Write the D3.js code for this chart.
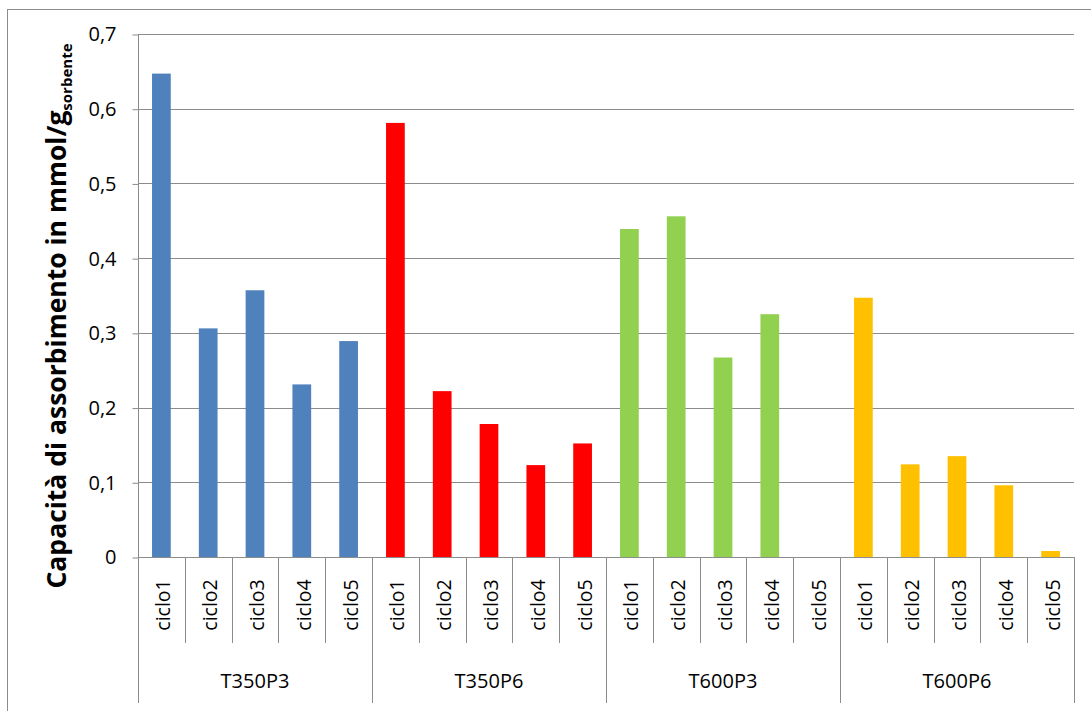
<!DOCTYPE html>
<html><head><meta charset="utf-8">
<script src="https://cdn.jsdelivr.net/npm/d3@7"></script>
<style>body{margin:0;background:#fff}svg{display:block}</style>
</head><body><svg id="c" width="1091" height="711"></svg>
<script>
const groups = ["T350P3","T350P6","T600P3","T600P6"];
const cycles = ["ciclo1","ciclo2","ciclo3","ciclo4","ciclo5"];
const colors = ["#4F81BD","#FF0000","#92D050","#FFC000"];
const valT350P3 = [0.647,0.306,0.357,0.231,0.289];
const valT350P6 = [0.581,0.222,0.178,0.123,0.152];
const valT600P3 = [0.439,0.456,0.267,0.325,0];
const valT600P6 = [0.347,0.124,0.135,0.096,0.008];
const yTicks = [0,0.1,0.2,0.3,0.4,0.5,0.6,0.7];
const allVals = [valT350P3,valT350P6,valT600P3,valT600P6];

const data = [];
groups.forEach((g,gi)=>cycles.forEach((c,ci)=>data.push({g,c,gi,key:g+"|"+c,v:allVals[gi][ci]})));

const svg = d3.select("#c");
const L=138,R=1074,T=34,B=557;
const font="'Open Sans','Noto Sans',sans-serif";

svg.append("rect").attr("x",7.5).attr("y",9.5).attr("width",1100).attr("height",720)
  .attr("fill","none").attr("stroke","#8c8c8c").attr("stroke-width",1);

const x = d3.scaleBand().domain(data.map(d=>d.key)).range([L,R]).paddingInner(0).paddingOuter(0);
const y = d3.scaleLinear().domain([0,0.7]).range([B,T]);

// gridlines
svg.append("g").selectAll("line").data(yTicks.slice(1)).join("line")
  .attr("x1",L).attr("x2",R).attr("y1",d=>Math.round(y(d))+0.5).attr("y2",d=>Math.round(y(d))+0.5)
  .attr("stroke","#8c8c8c").attr("stroke-width",1);

// y axis
const yAxis = d3.axisLeft(y).tickValues(yTicks).tickSize(6).tickPadding(16)
  .tickFormat(d=>d3.format(".1f")(d).replace(".",",").replace(/^0,0$/,"0"));
const yg = svg.append("g").attr("transform",`translate(${L+0.5},0.5)`).call(yAxis);
yg.select(".domain").remove();
yg.selectAll(".tick line").attr("stroke","#8c8c8c");
yg.selectAll(".tick text").attr("font-family",font).attr("font-size",20).attr("fill","#000");
svg.append("line").attr("x1",L+0.5).attr("x2",L+0.5).attr("y1",T).attr("y2",703).attr("stroke","#8c8c8c");

// bars
const bw = x.bandwidth()*0.4;
svg.append("g").selectAll("rect").data(data).join("rect")
  .attr("x",d=>x(d.key)+(x.bandwidth()-bw)/2).attr("width",bw)
  .attr("y",d=>y(d.v)).attr("height",d=>B-y(d.v))
  .attr("fill",d=>colors[d.gi]);

// x axis baseline
svg.append("line").attr("x1",L).attr("x2",R+1).attr("y1",B+0.5).attr("y2",B+0.5).attr("stroke","#8c8c8c");

// category separators
const cat = svg.append("g");
data.forEach((d,i)=>{
  const xs = Math.round(x(d.key))+0.5;
  if(i>0){
    const isGroup = (i%cycles.length)===0;
    cat.append("line").attr("x1",xs).attr("x2",xs).attr("y1",B).attr("y2",isGroup?703:643).attr("stroke","#8c8c8c");
  }
});
cat.append("line").attr("x1",Math.round(R)+0.5).attr("x2",Math.round(R)+0.5).attr("y1",B).attr("y2",703).attr("stroke","#8c8c8c");

// cycle labels
cat.selectAll("text.cy").data(data).join("text").attr("class","cy")
  .attr("transform",d=>`translate(${x(d.key)+x.bandwidth()/2+9},605) rotate(-90)`)
  .attr("text-anchor","middle").attr("font-family",font).attr("font-size",19.5).attr("fill","#000")
  .text(d=>d.c);

// group labels
const gw = (R-L)/groups.length;
cat.selectAll("text.gr").data(groups).join("text").attr("class","gr")
  .attr("x",(d,i)=>L+gw*i+gw/2).attr("y",688)
  .attr("text-anchor","middle").attr("font-family",font).attr("font-size",20).attr("fill","#000")
  .text(d=>d);

// y title
const yt = svg.append("text").attr("transform","translate(66,316) rotate(-90)")
  .attr("text-anchor","middle").attr("font-family",font).attr("font-weight","bold").attr("font-size",26.5).attr("fill","#000");
yt.append("tspan").text("Capacità di assorbimento in mmol/g");
yt.append("tspan").attr("font-size",15).attr("dy",6).text("sorbente");
</script></body></html>
